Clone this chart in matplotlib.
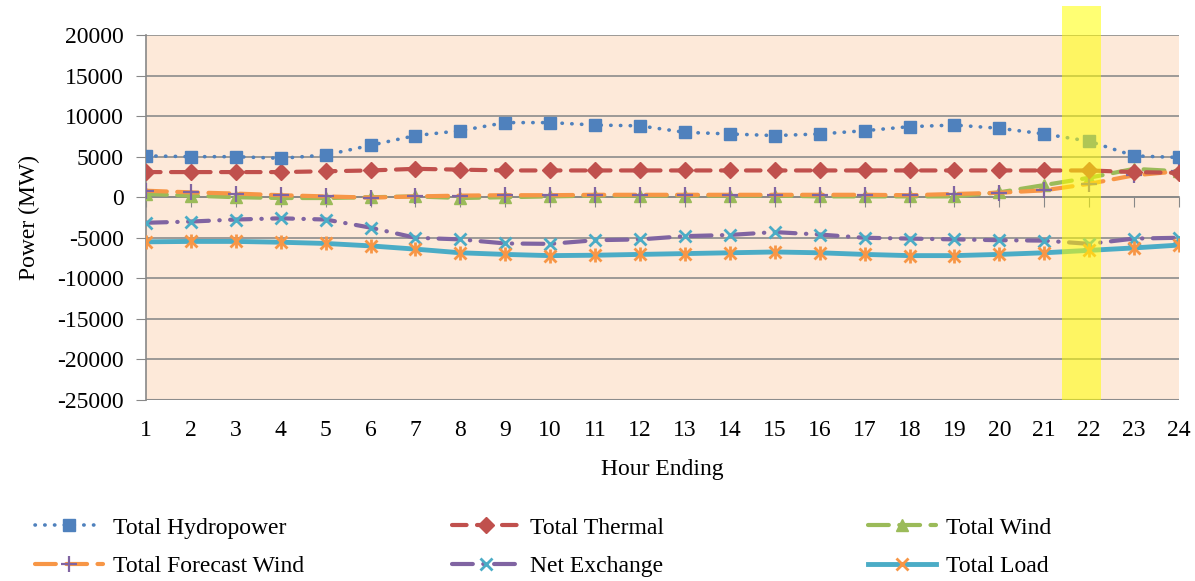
import matplotlib
matplotlib.use("Agg")
import matplotlib.pyplot as plt
import matplotlib.transforms as mtransforms
from matplotlib.patches import Rectangle

hours = list(range(1, 25))
hydro = [5100, 5000, 5000, 4800, 5200, 6400, 7600, 8200, 9200, 9200, 8900, 8800,
         8000, 7800, 7600, 7800, 8200, 8700, 8900, 8500, 7800, 6900, 5100, 4900]
thermal = [3100, 3100, 3100, 3100, 3200, 3300, 3500, 3400, 3300, 3300, 3300, 3300,
           3300, 3300, 3300, 3300, 3300, 3300, 3300, 3300, 3300, 3300, 3100, 3000]
wind = [400, 200, 0, -100, -100, 0, 100, -100, 0, 100, 200, 200,
        200, 200, 200, 100, 100, 100, 100, 600, 1500, 2400, 3500, 3200]
forecast_wind = [800, 600, 450, 250, 100, -50, 100, 200, 250, 250, 300, 300,
                 300, 300, 300, 300, 300, 250, 400, 550, 850, 1650, 2700, 3200]
net_exchange = [-3150, -3000, -2750, -2600, -2750, -3750, -5000, -5200, -5700, -5750, -5300, -5200,
                -4800, -4650, -4300, -4600, -5000, -5100, -5200, -5300, -5350, -5750, -5100, -5000]
total_load = [-5500, -5450, -5450, -5550, -5700, -6000, -6400, -6850, -7050, -7200, -7150, -7050,
              -6950, -6850, -6750, -6850, -7050, -7200, -7200, -7050, -6850, -6550, -6250, -5900]

series_names = ["Total Hydropower", "Total Thermal", "Total Wind",
                "Total Forecast Wind", "Net Exchange", "Total Load"]
yticks = list(range(-25000, 20001, 5000))
highlight_hour = 22

plt.rcParams['font.family'] = ['Liberation Serif', 'DejaVu Serif']
plt.rcParams['axes.unicode_minus'] = False

W, H = 1195, 581
FS = 17
fig = plt.figure(figsize=(W / 100, H / 100), dpi=100)
L, R, T, B = 146, 1179, 35, 400
ax = fig.add_axes([L / W, 1 - B / H, (R - L) / W, (B - T) / H])
ax.set_facecolor('#FDE9D9')

blue = '#4F81BD'; red = '#C0504D'; green = '#9BBB59'
orange = '#F79646'; purple = '#8064A2'; cyan = '#4BACC6'

lines = []
l, = ax.plot(hours, hydro, color=blue, lw=2.6, linestyle=(0, (0.1, 2.6)),
             dash_capstyle='round', marker='s', ms=9, mfc=blue, mec=blue, zorder=5)
lines.append(l)
l, = ax.plot(hours, thermal, color=red, lw=3, linestyle=(0, (3.5, 2.5)),
             dash_capstyle='round', marker='D', ms=8, mfc=red, mec=red, zorder=4)
lines.append(l)
l, = ax.plot(hours, wind, color=green, lw=3, linestyle=(0, (5, 2.5)),
             dash_capstyle='round', marker='^', ms=8, mfc=green, mec=green, zorder=3)
lines.append(l)
l, = ax.plot(hours, forecast_wind, color=orange, lw=3, linestyle=(0, (5, 2.5)),
             dash_capstyle='round', marker='+', ms=11, mew=1.6, mec=purple, zorder=3.5)
lines.append(l)
l, = ax.plot(hours, net_exchange, color=purple, lw=3, linestyle=(0, (5, 2.5, 0.1, 2.5)),
             dash_capstyle='round', marker='x', ms=9, mew=2, mec=cyan, zorder=3)
lines.append(l)
l, = ax.plot(hours, total_load, color=cyan, lw=3.5, linestyle='-',
             marker='x', ms=9, mew=2, mec=orange, zorder=3)
lines.append(l)
ax.plot(hours, total_load, linestyle='none', marker='|', ms=10, mew=2, mec=orange, zorder=3.1)

ax.set_xlim(1, 24)
ax.set_ylim(-25000, 20000)
ax.set_xticks(hours)
ax.set_yticks(yticks)
ax.tick_params(axis='y', labelsize=FS, length=7, color='#888888', direction='out', pad=9)
ax.tick_params(axis='x', length=7, color='#888888', direction='out', labelbottom=False)
ax.grid(axis='y', color='#8C8C8C', lw=1.2)
ax.set_axisbelow(True)
for s in ['top', 'right']:
    ax.spines[s].set_visible(False)
for s in ['left', 'bottom']:
    ax.spines[s].set_color('#888888')
    ax.spines[s].set_linewidth(1.2)
ax.spines['bottom'].set_position(('data', 0))
ax.axhline(-25000, color='#8C8C8C', lw=1.5, zorder=1)
ax.set_ylabel('Power (MW)', fontsize=FS)
ax.yaxis.set_label_coords((40 - L) / (R - L), 0.5)

# x tick labels placed at bottom of plot area
xlab_trans = mtransforms.blended_transform_factory(ax.transData, fig.transFigure)
for h in hours:
    fig.text(h, 1 - 431 / H, str(h), transform=xlab_trans, ha='center', va='center',
             fontsize=FS)
fig.text((L + R) / 2 / W, 1 - 469 / H, 'Hour Ending', ha='center', va='center', fontsize=FS)

# Highlight
trans = mtransforms.blended_transform_factory(ax.transData, fig.transFigure)
rect = Rectangle((highlight_hour - 0.6, 1 - B / H), 0.87, (B - 6) / H, transform=trans,
                 facecolor='#FFFF00', alpha=0.55, edgecolor='none', zorder=10, clip_on=False)
fig.add_artist(rect)

# Legend: three columns, row-major order
col_x = [35, 452, 868]
for c in range(3):
    idx = [c, c + 3]
    fig.legend([lines[i] for i in idx], [series_names[i] for i in idx],
               loc='upper left', bbox_to_anchor=(col_x[c] / W, 1 - 517 / H),
               frameon=False, fontsize=FS, handlelength=2.9, handletextpad=0.4,
               labelspacing=0.72, borderpad=0, borderaxespad=0)

fig.savefig('out.png', dpi=100)
